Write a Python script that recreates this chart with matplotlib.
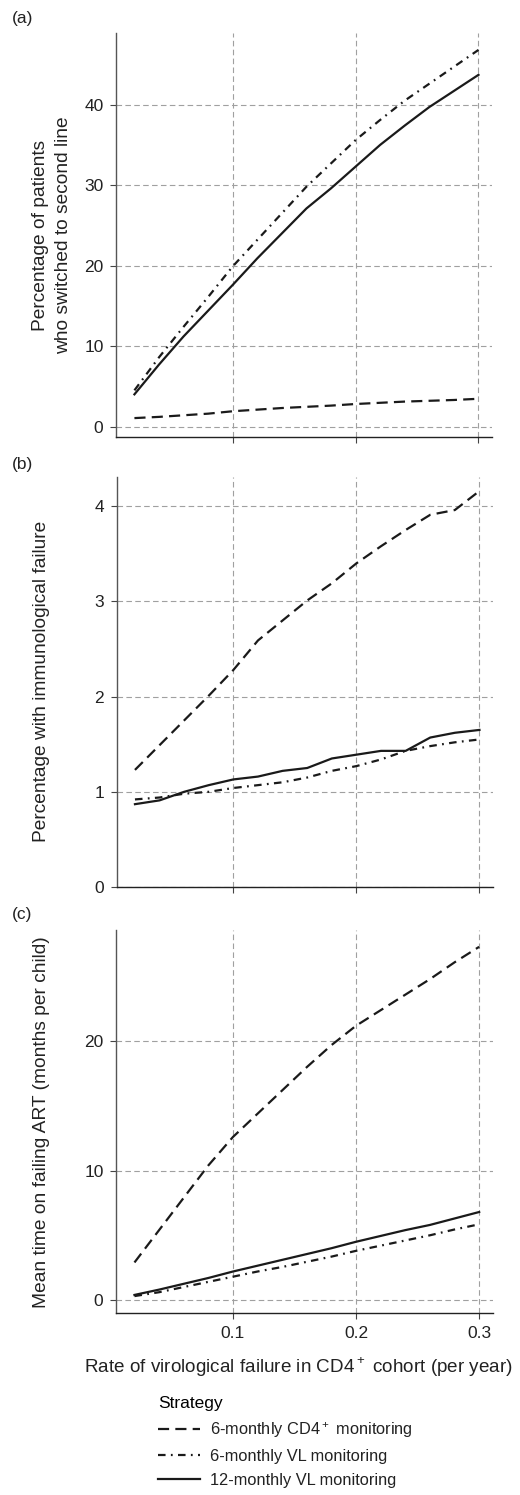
import matplotlib
matplotlib.use("Agg")
import matplotlib.pyplot as plt

plt.rcParams['font.family'] = ['Liberation Sans', 'DejaVu Sans']
plt.rcParams['mathtext.fontset'] = 'custom'
plt.rcParams['mathtext.rm'] = 'Liberation Sans'

rate = [0.02, 0.04, 0.06, 0.08, 0.10, 0.12, 0.14, 0.16, 0.18, 0.20, 0.22, 0.24, 0.26, 0.28, 0.30]

# (a) percentage switched to second line
switch_cd4 = [1.05, 1.2, 1.4, 1.6, 1.9, 2.1, 2.3, 2.45, 2.6, 2.8, 2.95, 3.1, 3.2, 3.3, 3.45]
switch_vl6 = [4.5, 8.6, 12.4, 16.1, 19.9, 23.2, 26.5, 29.8, 32.7, 35.6, 38.1, 40.5, 42.6, 44.7, 46.8]
switch_vl12 = [4.0, 7.7, 11.2, 14.4, 17.6, 20.9, 24.0, 27.1, 29.6, 32.3, 35.0, 37.4, 39.7, 41.7, 43.7]

# (b) percentage with immunological failure
immun_cd4 = [1.23, 1.49, 1.75, 2.01, 2.28, 2.59, 2.80, 3.01, 3.19, 3.40, 3.58, 3.75, 3.91, 3.96, 4.16]
immun_vl6 = [0.92, 0.94, 0.98, 1.0, 1.04, 1.07, 1.10, 1.15, 1.22, 1.27, 1.34, 1.43, 1.48, 1.52, 1.55]
immun_vl12 = [0.87, 0.91, 1.0, 1.07, 1.13, 1.16, 1.22, 1.25, 1.35, 1.39, 1.43, 1.43, 1.57, 1.62, 1.65]

# (c) mean time on failing ART
time_cd4 = [2.9, 5.4, 7.9, 10.4, 12.6, 14.4, 16.2, 18.0, 19.7, 21.2, 22.4, 23.6, 24.8, 26.1, 27.3]
time_vl6 = [0.3, 0.6, 1.0, 1.4, 1.8, 2.2, 2.55, 2.95, 3.35, 3.8, 4.2, 4.6, 5.0, 5.45, 5.85]
time_vl12 = [0.39, 0.8, 1.25, 1.7, 2.2, 2.65, 3.1, 3.55, 4.0, 4.5, 4.95, 5.4, 5.8, 6.3, 6.8]

strategies = ["6-monthly CD4$^+$ monitoring", "6-monthly VL monitoring", "12-monthly VL monitoring"]
styles = [(0, (5, 2.8)), (0, (3.4, 2.4, 0.8, 2.4)), "-"]

panels = [
    ("(a)", "Percentage of patients\nwho switched to second line",
     [switch_cd4, switch_vl6, switch_vl12], [0, 10, 20, 30, 40], (-1.3, 48.9)),
    ("(b)", "Percentage with immunological failure",
     [immun_cd4, immun_vl6, immun_vl12], [0, 1, 2, 3, 4], (0, 4.31)),
    ("(c)", "Mean time on failing ART (months per child)",
     [time_cd4, time_vl6, time_vl12], [0, 10, 20], (-1.03, 28.6)),
]

W, H = 520, 1495
boxes = [(116, 33, 492, 437), (116.5, 476.7, 493, 887), (116, 930, 492.7, 1313.3)]
label_y = [18, 465, 915]
ylabel_x = [52, 42, 42]

fig = plt.figure(figsize=(W / 100, H / 100), dpi=100)

for i, ((tag, ylab, series, yticks, ylim), box) in enumerate(zip(panels, boxes)):
    x0, y0, x1, y1 = box
    ax = fig.add_axes([x0 / W, 1 - y1 / H, (x1 - x0) / W, (y1 - y0) / H])
    for vals, ls, name in zip(series, styles, strategies):
        ax.plot(rate, vals, color="#1a1a1a", lw=1.6, linestyle=ls, label=name, zorder=3)
    ax.set_xlim(0.005, 0.311)
    ax.set_ylim(*ylim)
    ax.set_xticks([0.1, 0.2, 0.3])
    ax.set_yticks(yticks)
    ax.grid(True, color="#a0a0a0", linestyle=(0, (5, 3)), lw=0.8, zorder=1)
    for s in ["top", "right"]:
        ax.spines[s].set_visible(False)
    ax.spines["left"].set_color("#555555")
    ax.spines["bottom"].set_color("#222222")
    ax.spines["left"].set_linewidth(1.0)
    ax.spines["bottom"].set_linewidth(1.0)
    ax.tick_params(length=4, width=0.8, color="#444444", labelsize=12.5, pad=5,
                   labelcolor="#222222")
    if i < 2:
        ax.tick_params(axis="x", labelbottom=False)
    else:
        ax.set_xticklabels(["0.1", "0.2", "0.3"])
        ax.set_xlabel("Rate of virological failure in CD4$^+$ cohort (per year)",
                      fontsize=13.6, color="#222222")
        ax.xaxis.set_label_coords((298 - x0) / (x1 - x0), -(1367 - y1) / (y1 - y0))
        ax.xaxis.label.set_va("center")
    ax.set_ylabel(ylab, fontsize=13.8, linespacing=1.4, color="#222222")
    ax.yaxis.set_label_coords((ylabel_x[i] - x0) / (x1 - x0), 0.5)
    ax.yaxis.label.set_va("center")
    fig.text(12 / W, 1 - label_y[i] / H, tag, fontsize=12.5, va="center", ha="left",
             color="#222222")
    last = ax

handles, labels = last.get_legend_handles_labels()
leg = fig.legend(handles, labels, loc="upper left", bbox_to_anchor=(158 / W, 1 - 1396 / H),
                 frameon=False, title="Strategy", fontsize=11.8, title_fontsize=12.5,
                 handlelength=2.55, handletextpad=0.6, labelspacing=0.55, borderpad=0,
                 borderaxespad=0, alignment="left")
for t in leg.get_texts():
    t.set_color("#222222")

fig.savefig("out.png", dpi=100)
